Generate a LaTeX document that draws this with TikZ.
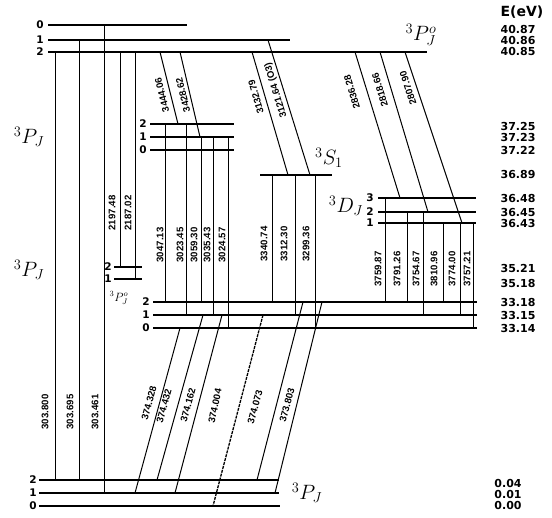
\documentclass[tikz,border=0pt]{standalone}
\usepackage{fontspec}
\usepackage{graphicx}
\newfontfamily\labfont{DejaVu Sans}
\newfontfamily\wlfont{Liberation Sans}
\begin{document}
\begin{tikzpicture}[x=1pt,y=-1pt,
  lev/.style={line width=1.8pt},
  tr/.style={line width=1pt},
  trd/.style={line width=1.3pt,dash pattern=on 3pt off 1pt},
  wl/.style={font=\wlfont\bfseries\fontsize{9.6}{10}\selectfont, inner sep=0pt},
  en/.style={font=\labfont\bfseries\fontsize{11}{12}\selectfont, inner sep=0pt},
  jn/.style={font=\labfont\bfseries\fontsize{10.5}{11}\selectfont, inner sep=0pt},
  term/.style={font=\fontsize{21}{24}\selectfont, inner sep=0pt},
  sterm/.style={font=\fontsize{12}{14}\selectfont, inner sep=0pt}]
\useasboundingbox (0,0) rectangle (552,518);
% ---------- levels ----------
\draw[lev] (48,25) -- (187,25);
\draw[lev] (48,40) -- (290,40);
\draw[lev] (48,52) -- (427,52);
\draw[lev] (150,124) -- (234,124);
\draw[lev] (150,137) -- (234,137);
\draw[lev] (150,150) -- (234,150);
\draw[lev] (260,175) -- (332,175);
\draw[lev] (378,198) -- (476,198);
\draw[lev] (378,212) -- (476,212);
\draw[lev] (378,223) -- (476,223);
\draw[lev] (114,267) -- (142,267);
\draw[lev] (114,279) -- (142,279);
\draw[lev] (153,302) -- (477,302);
\draw[lev] (153,315) -- (477,315);
\draw[lev] (153,328) -- (477,328);
\draw[lev] (39,480) -- (279,480);
\draw[lev] (39,493) -- (279,493);
\draw[lev] (39,506) -- (280,506);
% ---------- J labels ----------
\node[jn] (ja0) at (40,25) {0};
\node[jn] (ja1) at (40,40) {1};
\node[jn] (ja2) at (40,52) {2};
\node[jn] (jb2) at (143,124) {2};
\node[jn] (jb1) at (143,137) {1};
\node[jn] (jb0) at (143,150) {0};
\node[jn] (jc3) at (370,198) {3};
\node[jn] (jc2) at (370,212) {2};
\node[jn] (jc1) at (370,223) {1};
\node[jn] (jd2) at (108,267) {2};
\node[jn] (jd1) at (108,279) {1};
\node[jn] (je2) at (146,302) {2};
\node[jn] (je1) at (146,315) {1};
\node[jn] (je0) at (146,328) {0};
\node[jn] (jf2) at (33,480) {2};
\node[jn] (jf1) at (33,493) {1};
\node[jn] (jf0) at (33,506) {0};
% ---------- terms ----------
\node[term] (t1) at (29,137) {$^3P_J$};
\node[term] (t2) at (29,270) {$^3P_J$};
\node[term] (t3) at (421,35) {$^3P_J^o$};
\node[sterm] (t4) at (119,298) {$^3P_J^o$};
\node[term] (t5) at (329,158) {$^3S_1$};
\node[term] (t6) at (346,206) {$^3D_J$};
\node[term] (t7) at (307,493) {$^3P_J$};
% ---------- energies ----------
\node[font=\labfont\bfseries\fontsize{14}{16}\selectfont,inner sep=0pt] (eh) at (522,12) {E(eV)};
\foreach \v/\y/\n in {40.87/30/a,40.86/41/b,40.85/52/c,37.25/127/d,37.23/138/e,37.22/150/f,36.89/174/g,36.48/198/h,36.45/212/i,36.43/223/j,35.21/268/k,35.18/283/l,33.18/302/m,33.15/315/n,33.14/328/o}
  \node[en] (e\n) at (518,\y) {\v};
\foreach \v/\y/\n in {0.04/483/p,0.01/494/q,0.00/505/r}
  \node[en] (e\n) at (508,\y) {\v};
% ---------- transitions ----------
% top -> ground
\draw[tr] (55,52) -- (55,480);
\draw[tr] (79,40) -- (79,480);
\draw[tr] (104,25) -- (104,493);
\node[wl,rotate=90] (w1) at (45,412) {303.800};
\node[wl,rotate=90] (w2) at (70,412) {303.695};
\node[wl,rotate=90] (w3) at (95,412) {303.461};
% top -> small 3P
\draw[tr] (120,52) -- (120,267);
\draw[tr] (135,52) -- (135,279);
\node[wl,rotate=90] (w4) at (112,213) {2197.48};
\node[wl,rotate=90] (w5) at (128,213) {2187.02};
% top -> middle 3P
\draw[tr] (160,52) -- (178,124);
\draw[tr] (180,52) -- (200,137);
\node[wl,rotate=104] (w6) at (162,95) {3444.06};
\node[wl,rotate=104] (w7) at (183,95) {3428.62};
% top -> 3S1
\draw[tr] (252,52) -- (288,175);
\draw[tr] (268,40) -- (310,175);
\node[wl,rotate=106] (w8) at (256,97) {3132.79};
\node[wl,rotate=107] (w9) at (276,90) {3121.64 (O3)};
% top -> 3D
\draw[tr] (355,52) -- (400,198);
\draw[tr] (380,52) -- (428,212);
\draw[tr] (405,52) -- (462,223);
\node[wl,rotate=107] (w10) at (352,92) {2836.28};
\node[wl,rotate=107] (w11) at (380,90) {2818.66};
\node[wl,rotate=108] (w12) at (408,88) {2807.90};
% middle 3P -> lower 3P
\draw[tr] (165,124) -- (165,302);
\draw[tr] (186,124) -- (186,315);
\draw[tr] (201,137) -- (201,302);
\draw[tr] (213,137) -- (213,315);
\draw[tr] (228,137) -- (228,328);
\node[wl,rotate=90] (w13) at (160,245) {3047.13};
\node[wl,rotate=90] (w14) at (180,245) {3023.45};
\node[wl,rotate=90] (w15) at (194,245) {3059.30};
\node[wl,rotate=90] (w16) at (207,245) {3035.43};
\node[wl,rotate=90] (w17) at (222,245) {3024.57};
% 3S1 -> lower 3P
\draw[tr] (272,175) -- (272,302);
\draw[tr] (295,175) -- (295,315);
\draw[tr] (315,175) -- (315,328);
\node[wl,rotate=90] (w18) at (264,244) {3340.74};
\node[wl,rotate=90] (w19) at (284,244) {3312.30};
\node[wl,rotate=90] (w20) at (306,244) {3299.36};
% 3D -> lower 3P
\draw[tr] (385,198) -- (385,302);
\draw[tr] (407,212) -- (407,302);
\draw[tr] (423,212) -- (423,315);
\draw[tr] (443,223) -- (443,302);
\draw[tr] (460,223) -- (460,315);
\draw[tr] (473,223) -- (473,328);
\node[wl,rotate=90] (w21) at (378,269) {3759.87};
\node[wl,rotate=90] (w22) at (397,269) {3791.26};
\node[wl,rotate=90] (w23) at (416,269) {3754.67};
\node[wl,rotate=90] (w24) at (434,269) {3810.96};
\node[wl,rotate=90] (w25) at (452,269) {3774.00};
\node[wl,rotate=90] (w26) at (467,269) {3757.21};
% lower 3P -> ground
\draw[tr] (180,328) -- (135,493);
\draw[tr] (203,315) -- (157,480);
\draw[tr] (222,315) -- (175,493);
\draw[trd] (263,315) -- (213,506);
\draw[tr] (303,302) -- (257,480);
\draw[tr] (322,302) -- (275,493);
\node[wl,rotate=75] (w27) at (149,403) {374.328};
\node[wl,rotate=75] (w28) at (164,406) {374.432};
\node[wl,rotate=75] (w29) at (188,405) {374.162};
\node[wl,rotate=78] (w30) at (215,406) {374.004};
\node[wl,rotate=75] (w31) at (255,407) {374.073};
\node[wl,rotate=75] (w32) at (287,405) {373.803};
\end{tikzpicture}
\end{document}
